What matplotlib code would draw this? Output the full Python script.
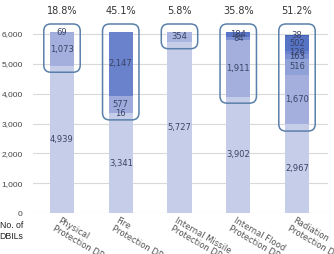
import matplotlib
matplotlib.use("Agg")
import matplotlib.pyplot as plt
from matplotlib.patches import FancyBboxPatch
import matplotlib.transforms as mtransforms

categories = ["Physical\nProtection DP", "Fire\nProtection DP", "Internal Missile\nProtection DP",
              "Internal Flood\nProtection DP", "Radiation\nProtection DP"]
base_values = [4939, 3341, 5727, 3902, 2967]
physical_segs = [1073, 69]
fire_segs = [16, 577, 2147]
missile_segs = [354]
flood_segs = [1911, 84, 184]
radiation_segs = [1670, 516, 163, 126, 502, 38]
pct_labels = ["18.8%", "45.1%", "5.8%", "35.8%", "51.2%"]
yticks = [0, 1000, 2000, 3000, 4000, 5000, 6000]

stack_segs = [physical_segs, fire_segs, missile_segs, flood_segs, radiation_segs]
seg_colors = [
    ["#a4afdd", "#a0acdc"],
    ["#b6bfe5", "#9eaadb", "#6a82cb"],
    ["#a9b4df"],
    ["#a4afdd", "#7d91d2", "#5a75c6"],
    ["#a4afdd", "#90a1d8", "#7b90d2", "#6a82cc", "#5773c5", "#3e5fb8"],
]
base_color = "#c6cde8"
txt_color = "#3a4466"

W, H = 334, 254
fig = plt.figure(figsize=(W / 100, H / 100), dpi=100)
ax_left, ax_right, ax_top, ax_bot = 33, 328, 4, 213
ax = fig.add_axes([ax_left / W, 1 - ax_bot / H, (ax_right - ax_left) / W, (ax_bot - ax_top) / H])

x0 = -(62 - 33) / 58.75
x1 = x0 + (ax_right - ax_left) / 58.75
ax.set_xlim(x0, x1)
ymax = (ax_bot - ax_top) / 29.83 * 1000
ax.set_ylim(0, ymax)

bw = 0.41
xs = list(range(len(categories)))
ax.bar(xs, base_values, width=bw, color=base_color, zorder=2)
for i, v in enumerate(base_values):
    ax.text(i, v / 2, f"{v:,}", ha="center", va="center", fontsize=6, color=txt_color, zorder=5)

tops = []
for i, segs in enumerate(stack_segs):
    bottom = base_values[i]
    for j, s in enumerate(segs):
        ax.bar(i, s, bottom=bottom, width=bw, color=seg_colors[i][j], zorder=2)
        ax.text(i, bottom + s / 2, f"{s:,}", ha="center", va="center", fontsize=6,
                color=txt_color, zorder=5)
        bottom += s
    tops.append(bottom)

# rounded highlight boxes
px_x = 58.75
px_y = 29.83 / 1000
aspect = px_x / px_y
top_box = max(tops) + 255
for i in xs:
    yb = base_values[i] - 220
    hw = 0.31
    p = FancyBboxPatch((i - hw, yb), 2 * hw, top_box - yb,
                       boxstyle="round,pad=0,rounding_size=0.12",
                       mutation_aspect=aspect, fill=False,
                       edgecolor="#5a80aa", linewidth=1.1, zorder=6, clip_on=False)
    ax.add_patch(p)
    ax.text(i, 6770, pct_labels[i], ha="center", va="center", fontsize=7,
            color="#333333", clip_on=False)

ax.set_yticks(yticks)
ax.set_yticklabels([f"{t:,}" for t in yticks], fontsize=6, color="#444444",
                   family="Liberation Sans")
ax.tick_params(axis="y", length=0, pad=7.5)
ax.set_xticks([])
ax.grid(axis="y", color="#d9d9d9", linewidth=0.8, zorder=0)
ax.set_axisbelow(True)
for sp in ax.spines.values():
    sp.set_visible(False)

trans = mtransforms.blended_transform_factory(ax.transData, ax.transAxes)
off = mtransforms.ScaledTranslation(0, -2 / 72, fig.dpi_scale_trans)
for i, c in enumerate(categories):
    ax.text(i - 0.03, 0, c, transform=trans + off, rotation=-30, rotation_mode="anchor",
            ha="left", va="top", fontsize=6, color="#555555", linespacing=1.0)

fig.text(23 / W, 1 - 231 / H, "No. of\nDBILs", ha="right", va="center", fontsize=6.3,
         color="#222222", family="Liberation Sans", linespacing=1.3)

fig.savefig("out.png", dpi=100)
